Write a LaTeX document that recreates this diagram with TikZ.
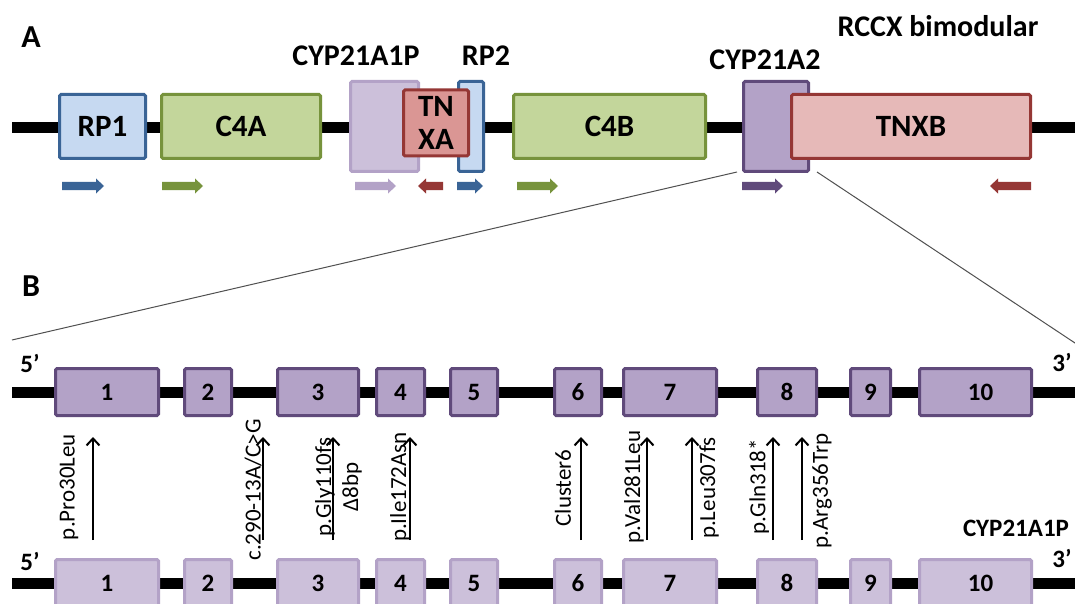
\documentclass[tikz,border=0pt]{standalone}
\usepackage{fontspec}
\setmainfont{Carlito}
\usetikzlibrary{arrows.meta}
\definecolor{bluefill}{HTML}{C6D9F1}
\definecolor{blueline}{HTML}{3A6496}
\definecolor{greenfill}{HTML}{C3D69B}
\definecolor{greenline}{HTML}{77933C}
\definecolor{lpfill}{HTML}{CCC0DA}
\definecolor{lpline}{HTML}{B3A2C7}
\definecolor{dpfill}{HTML}{B3A2C7}
\definecolor{dpline}{HTML}{604A7B}
\definecolor{redfill}{HTML}{DA9694}
\definecolor{redline}{HTML}{953735}
\definecolor{pinkfill}{HTML}{E6B9B8}
\definecolor{zoomline}{HTML}{505050}
\newcommand\garR[3]{\fill[#1] (#2,182) -- ({#3-8},182) -- ({#3-8},178.5) -- (#3,186) -- ({#3-8},193.5) -- ({#3-8},190) -- (#2,190) -- cycle;}
\newcommand\garL[3]{\fill[#1] (#3,182) -- ({#2+8},182) -- ({#2+8},178.5) -- (#2,186) -- ({#2+8},193.5) -- ({#2+8},190) -- (#3,190) -- cycle;}
\begin{document}
\begin{tikzpicture}[x=1pt,y=-1pt,
  gene/.style={draw, line width=3pt, rounded corners=1.5pt, inner sep=0pt, align=center,
    font=\fontsize{31}{33}\selectfont\bfseries},
  exonA/.style={draw=dpline, fill=dpfill, line width=3pt, rounded corners=1.5pt, inner sep=0pt,
    minimum height=47pt, font=\fontsize{25}{26}\selectfont\bfseries},
  exonB/.style={draw=lpline, fill=lpfill, line width=3pt, rounded corners=1.5pt, inner sep=0pt,
    minimum height=47pt, font=\fontsize{25}{26}\selectfont\bfseries},
  backbone/.style={line width=11pt, black},
  mut/.style={line width=2pt, -{Straight Barb[length=7pt,width=13pt,line width=2pt]}},
  mutlabel/.style={rotate=90, inner sep=0pt, font=\fontsize{23}{24}\selectfont},
  biglabel/.style={inner sep=0pt, font=\fontsize{30}{31}\selectfont\bfseries},
  panel/.style={inner sep=0pt, font=\fontsize{32}{33}\selectfont\bfseries},
  endlabel/.style={inner sep=0pt, font=\fontsize{25}{26}\selectfont\bfseries},
  zoomln/.style={line width=1pt, zoomline}]
\clip (0,0) rectangle (1075,604);
\fill[white] (0,0) rectangle (1075,604);

% ---------------- Panel A ----------------
\node[panel] (pA) at (31,37) {A};
\node[biglabel] (rccx) at (938,26) {RCCX bimodular};
\node[biglabel] (lcyp1p) at (356,56) {CYP21A1P};
\node[biglabel] (lrp2) at (486,56) {RP2};
\node[biglabel] (lcyp2) at (765,60) {CYP21A2};

\coordinate (a0) at (12,127.5);
\coordinate (a1) at (1080,127.5);
\draw[backbone] (a0) -- (a1);

\node[gene, draw=blueline, fill=bluefill, minimum width=86pt, minimum height=64pt] (rp1) at (102.5,126.5) {RP1};
\node[gene, draw=greenline, fill=greenfill, minimum width=159pt, minimum height=64pt] (c4a) at (241,126.5) {C4A};
\node[gene, draw=lpline, fill=lpfill, minimum width=68pt, minimum height=90pt] (cyp1p) at (384.5,126.5) {};
\node[gene, draw=blueline, fill=bluefill, minimum width=25pt, minimum height=90pt] (rp2) at (471,126.5) {};
\node[gene, draw=redline, fill=redfill, minimum width=65pt, minimum height=66pt] (tnxa) at (436,123) {TN\\XA};
\node[gene, draw=greenline, fill=greenfill, minimum width=192pt, minimum height=64pt] (c4b) at (609.5,126.5) {C4B};
\node[gene, draw=dpline, fill=dpfill, minimum width=65pt, minimum height=90pt] (cyp2) at (776,126.5) {};
\node[gene, draw=redline, fill=pinkfill, minimum width=239pt, minimum height=64pt] (tnxb) at (911,126.5) {TNXB};

\garR{blueline}{62}{104}
\garR{greenline}{162}{203}
\garR{lpline}{355}{396}
\garL{redline}{418}{443}
\garR{blueline}{457}{483}
\garR{greenline}{517}{558}
\garR{dpline}{742}{783}
\garL{redline}{990}{1031}

% zoom lines
\coordinate (z1) at (737,172);
\coordinate (z2) at (12,340);
\coordinate (z3) at (817,172);
\coordinate (z4) at (1078,345);
\draw[zoomln] (z1) -- (z2);
\draw[zoomln] (z3) -- (z4);

% ---------------- Panel B ----------------
\node[panel] (pB) at (31,286) {B};

\node[endlabel] (f5t) at (30,363) {5’};
\node[endlabel] (f3t) at (1062,362) {3’};
\node[endlabel] (f5b) at (30,561) {5’};
\node[endlabel] (f3b) at (1062,558) {3’};
\node[inner sep=0pt, font=\fontsize{25}{26}\selectfont\bfseries] (lcypb) at (1016,528) {CYP21A1P};

\coordinate (b0) at (12,392);
\coordinate (b1) at (1080,392);
\draw[backbone] (b0) -- (b1);
\coordinate (c0) at (12,583);
\coordinate (c1) at (1080,583);
\draw[backbone] (c0) -- (c1);

% top exons (CYP21A2)
\node[exonA, minimum width=103pt] (t1) at (107,392) {1};
\node[exonA, minimum width=47pt] (t2) at (208,392) {2};
\node[exonA, minimum width=81pt] (t3) at (318,392) {3};
\node[exonA, minimum width=48pt] (t4) at (400.5,392) {4};
\node[exonA, minimum width=47pt] (t5) at (474,392) {5};
\node[exonA, minimum width=47pt] (t6) at (578,392) {6};
\node[exonA, minimum width=93pt] (t7) at (670,392) {7};
\node[exonA, minimum width=59pt] (t8) at (787,392) {8};
\node[exonA, minimum width=40pt] (t9) at (870.5,392) {9};
\node[exonA, minimum width=112pt, text width=112pt, align=center] (t10) at (975.5,392) {\hspace*{10pt}10};

% bottom exons (CYP21A1P)
\node[exonB, minimum width=103pt] (u1) at (107,583) {1};
\node[exonB, minimum width=47pt] (u2) at (208,583) {2};
\node[exonB, minimum width=81pt] (u3) at (318,583) {3};
\node[exonB, minimum width=48pt] (u4) at (400.5,583) {4};
\node[exonB, minimum width=47pt] (u5) at (474,583) {5};
\node[exonB, minimum width=47pt] (u6) at (578,583) {6};
\node[exonB, minimum width=93pt] (u7) at (670,583) {7};
\node[exonB, minimum width=59pt] (u8) at (787,583) {8};
\node[exonB, minimum width=40pt] (u9) at (870.5,583) {9};
\node[exonB, minimum width=112pt, text width=112pt, align=center] (u10) at (975.5,583) {\hspace*{10pt}10};

% mutation arrows
\foreach \n/\x in {m1/93, m2/263, m3/333, m4/410, m5/581, m6/647, m7/692, m8/773, m9/802} {
  \coordinate (\n s) at (\x,540);
  \coordinate (\n e) at (\x,437);
  \draw[mut] (\n s) -- (\n e);
}

\node[mutlabel] (l1) at (69,487) {p.Pro30Leu};
\node[mutlabel] (l2) at (253,490) {c.290-13A/C>G};
\node[mutlabel] (l3) at (325,487) {p.Gly110fs};
\node[mutlabel] (l3b) at (352,487) {Δ8bp};
\node[mutlabel] (l4) at (400,487) {p.Ile172Asn};
\node[mutlabel] (l5) at (563,488) {Cluster6};
\node[mutlabel] (l6) at (634,487) {p.Val281Leu};
\node[mutlabel] (l7) at (709,488) {p.Leu307fs};
\node[mutlabel] (l8) at (759,487) {p.Gln318*};
\node[mutlabel] (l9) at (822,491) {p.Arg356Trp};
\end{tikzpicture}
\end{document}
